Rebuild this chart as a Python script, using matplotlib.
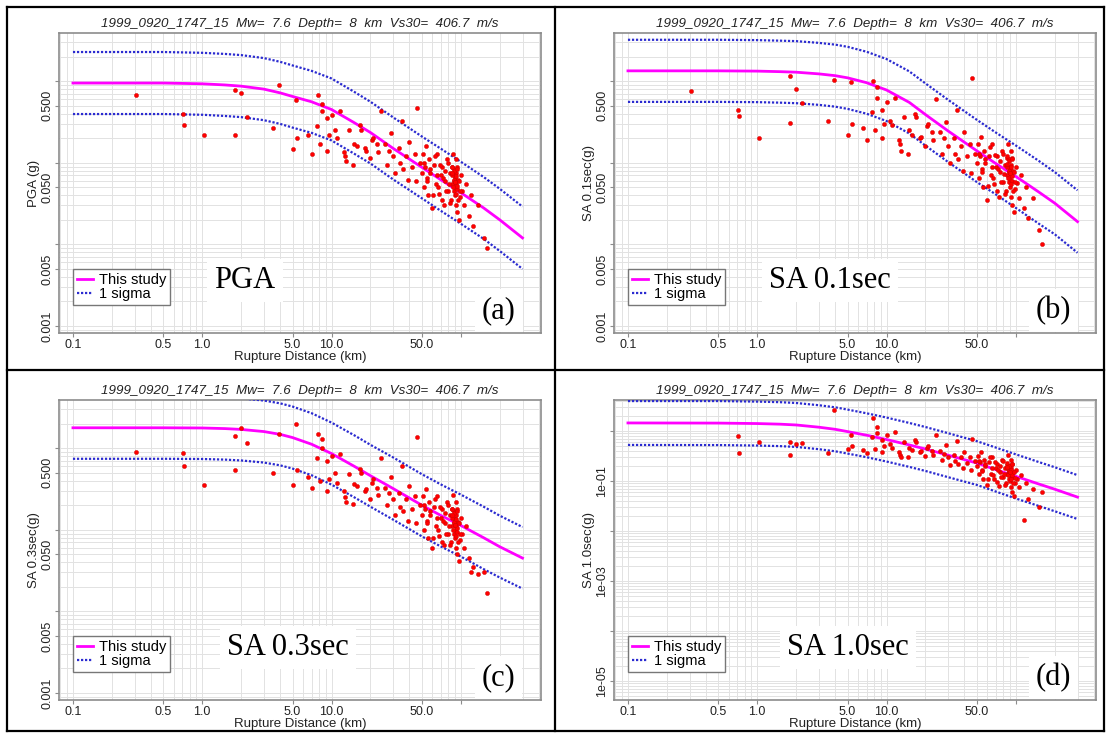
import numpy as np
import matplotlib
matplotlib.use("Agg")
import matplotlib.pyplot as plt
from matplotlib.lines import Line2D
from matplotlib.ticker import FixedLocator, FixedFormatter, LogLocator, NullFormatter

plt.rcParams['font.family'] = ['Liberation Sans', 'DejaVu Sans']

title_txt = "1999_0920_1747_15  Mw=  7.6  Depth=  8  km  Vs30=  406.7  m/s"

# station rupture distances (km), shared by all four periods
dist_km = [0.31, 0.71, 0.72, 1.03, 1.8, 1.8, 2.0, 2.2, 3.5, 3.9,
           5.0, 5.3, 5.4, 6.6, 7.0, 7.7, 7.8, 8.1, 8.4, 8.5,
           9.2, 9.3, 9.6, 10.1, 10.6, 11.0, 11.6, 12.5, 12.6, 13.0,
           13.6, 14.6, 15.0, 15.7, 16.6, 17.0, 18.1, 18.6, 19.8, 20.5,
           21.0, 22.4, 23.0, 24.0, 26, 27, 28, 29, 30, 31,
           33, 34, 35, 36, 38, 39, 40, 42, 44, 45,
           46, 48, 50, 51, 52, 53, 54, 55, 56, 57,
           58, 60, 62, 64, 66, 68, 70, 72, 74, 76,
           78, 80, 82, 84, 85, 86, 87, 88, 88, 89,
           89, 90, 90, 90, 91, 91, 92, 92, 93, 93,
           94, 95, 96, 98, 100, 102, 105, 110, 115, 120,
           125, 135, 150, 160,
           52, 55, 58, 61, 63, 65, 67, 69, 71, 73,
           75, 77, 79, 81, 83, 85, 86, 87, 88, 89,
           90, 91, 92, 93, 94, 95, 97, 99, 85, 90]

pga_obs = [0.68, 0.40, 0.29, 0.22, 0.22, 0.78, 0.72, 0.36, 0.27, 0.90,
           0.146, 0.59, 0.20, 0.22, 0.13, 0.285, 0.68, 0.17, 0.53, 0.43,
           0.35, 0.14, 0.22, 0.39, 0.25, 0.20, 0.43, 0.134, 0.12, 0.105,
           0.25, 0.095, 0.17, 0.16, 0.29, 0.25, 0.15, 0.14, 0.116, 0.19,
           0.20, 0.17, 0.135, 0.43, 0.17, 0.095, 0.14, 0.23, 0.12, 0.075,
           0.15, 0.10, 0.33, 0.085, 0.12, 0.062, 0.18, 0.09, 0.13, 0.06,
           0.47, 0.10, 0.075, 0.13, 0.05, 0.09, 0.16, 0.065, 0.04, 0.11,
           0.075, 0.028, 0.095, 0.055, 0.13, 0.042, 0.07, 0.09, 0.03, 0.06,
           0.11, 0.045, 0.075, 0.035, 0.09, 0.055, 0.13, 0.07, 0.045, 0.06,
           0.085, 0.05, 0.065, 0.04, 0.11, 0.03, 0.075, 0.055, 0.025, 0.09,
           0.048, 0.062, 0.02, 0.038, 0.07, 0.045, 0.03, 0.055, 0.022, 0.04,
           0.017, 0.03, 0.012, 0.009,
           0.10, 0.06, 0.085, 0.04, 0.12, 0.07, 0.05, 0.095, 0.035, 0.065,
           0.08, 0.045, 0.10, 0.055, 0.032, 0.07, 0.09, 0.05, 0.062, 0.08,
           0.058, 0.042, 0.068, 0.052, 0.085, 0.035, 0.06, 0.045, 0.075, 0.058]

sa01_obs = [0.76, 0.45, 0.38, 0.20, 0.31, 1.16, 0.80, 0.54, 0.33, 1.04,
            0.22, 0.98, 0.30, 0.27, 0.19, 0.42, 1.0, 0.25, 0.85, 0.62,
            0.45, 0.20, 0.30, 0.56, 0.33, 0.29, 0.62, 0.19, 0.17, 0.14,
            0.36, 0.13, 0.25, 0.22, 0.40, 0.36, 0.20, 0.21, 0.16, 0.28,
            0.30, 0.24, 0.19, 0.60, 0.24, 0.13, 0.20, 0.32, 0.16, 0.10,
            0.20, 0.13, 0.45, 0.11, 0.16, 0.08, 0.24, 0.12, 0.17, 0.075,
            1.1, 0.13, 0.10, 0.17, 0.065, 0.12, 0.21, 0.085, 0.05, 0.14,
            0.10, 0.035, 0.12, 0.07, 0.17, 0.055, 0.09, 0.12, 0.038, 0.078,
            0.14, 0.058, 0.095, 0.045, 0.115, 0.07, 0.17, 0.09, 0.058, 0.077,
            0.11, 0.064, 0.083, 0.05, 0.14, 0.038, 0.095, 0.07, 0.03, 0.115,
            0.06, 0.08, 0.025, 0.048, 0.09, 0.056, 0.037, 0.07, 0.028, 0.05,
            0.021, 0.037, 0.015, 0.010,
            0.13, 0.078, 0.11, 0.052, 0.155, 0.09, 0.065, 0.125, 0.045, 0.085,
            0.105, 0.058, 0.13, 0.072, 0.042, 0.09, 0.12, 0.065, 0.08, 0.105,
            0.075, 0.055, 0.088, 0.068, 0.11, 0.045, 0.078, 0.058, 0.098, 0.075]

sa03_obs = [0.90, 0.87, 0.60, 0.35, 0.54, 1.41, 1.77, 1.16, 0.50, 1.49,
            0.35, 1.98, 0.54, 0.44, 0.33, 0.75, 1.5, 0.40, 1.3, 1.0,
            0.70, 0.30, 0.42, 0.80, 0.50, 0.38, 0.85, 0.30, 0.25, 0.22,
            0.48, 0.21, 0.36, 0.34, 0.55, 0.50, 0.30, 0.32, 0.24, 0.38,
            0.42, 0.33, 0.27, 0.75, 0.33, 0.20, 0.28, 0.45, 0.24, 0.15,
            0.28, 0.19, 0.60, 0.17, 0.24, 0.13, 0.34, 0.18, 0.26, 0.12,
            1.37, 0.20, 0.15, 0.26, 0.10, 0.18, 0.32, 0.13, 0.08, 0.22,
            0.15, 0.06, 0.19, 0.11, 0.26, 0.085, 0.14, 0.18, 0.065, 0.12,
            0.22, 0.09, 0.15, 0.07, 0.18, 0.11, 0.27, 0.14, 0.09, 0.12,
            0.17, 0.10, 0.13, 0.08, 0.22, 0.06, 0.15, 0.11, 0.05, 0.18,
            0.095, 0.125, 0.042, 0.075, 0.14, 0.09, 0.06, 0.11, 0.045, 0.03,
            0.035, 0.029, 0.030, 0.017,
            0.20, 0.12, 0.17, 0.08, 0.24, 0.14, 0.10, 0.19, 0.07, 0.13,
            0.16, 0.09, 0.20, 0.11, 0.065, 0.14, 0.18, 0.10, 0.125, 0.16,
            0.115, 0.085, 0.135, 0.105, 0.17, 0.07, 0.12, 0.09, 0.15, 0.115]

sa10_obs = [np.nan, 0.81, 0.36, 0.62, 0.33, 0.62, 0.55, 0.59, 0.37, 2.67,
            0.45, 0.85, 0.50, 0.42, 0.36, 0.75, 1.86, 0.45, 1.2, 0.90,
            0.68, 0.38, 0.50, 0.82, 0.55, 0.46, 0.95, 0.38, 0.33, 0.30,
            0.60, 0.30, 0.46, 0.42, 0.66, 0.60, 0.38, 0.40, 0.32, 0.46,
            0.50, 0.41, 0.34, 0.85, 0.40, 0.26, 0.35, 0.52, 0.30, 0.21,
            0.34, 0.25, 0.65, 0.22, 0.30, 0.18, 0.38, 0.23, 0.30, 0.17,
            0.70, 0.25, 0.20, 0.32, 0.14, 0.24, 0.38, 0.17, 0.11, 0.27,
            0.20, 0.085, 0.24, 0.14, 0.30, 0.11, 0.18, 0.22, 0.08, 0.15,
            0.26, 0.12, 0.18, 0.09, 0.21, 0.14, 0.33, 0.17, 0.11, 0.15,
            0.20, 0.13, 0.16, 0.10, 0.27, 0.075, 0.18, 0.13, 0.06, 0.22,
            0.12, 0.15, 0.05, 0.09, 0.17, 0.11, 0.075, 0.13, 0.017, 0.09,
            0.045, 0.07, 0.03, 0.06,
            0.25, 0.16, 0.22, 0.11, 0.30, 0.18, 0.13, 0.24, 0.095, 0.17,
            0.20, 0.12, 0.25, 0.14, 0.085, 0.18, 0.23, 0.13, 0.16, 0.20,
            0.15, 0.11, 0.17, 0.135, 0.22, 0.09, 0.155, 0.115, 0.19, 0.15]

# model curves (median and +/- 1 sigma), g
curve_km = [0.1, 0.5, 1, 1.5, 2, 3, 4, 5, 7, 10, 15, 20, 30, 50, 70, 100, 150, 200, 300]

pga_med = [0.95, 0.95, 0.93, 0.90, 0.87, 0.80, 0.72, 0.65, 0.56, 0.45, 0.31, 0.235, 0.15, 0.088, 0.062, 0.043, 0.028, 0.020, 0.012]
pga_up = [2.28, 2.28, 2.23, 2.16, 2.09, 1.92, 1.73, 1.56, 1.34, 1.08, 0.74, 0.56, 0.36, 0.21, 0.149, 0.103, 0.067, 0.048, 0.029]
pga_lo = [0.396, 0.396, 0.388, 0.375, 0.363, 0.333, 0.30, 0.27, 0.233, 0.188, 0.129, 0.098, 0.0625, 0.0367, 0.0258, 0.0179, 0.0117, 0.0083, 0.005]

sa01_med = [1.34, 1.34, 1.33, 1.31, 1.29, 1.23, 1.17, 1.10, 0.96, 0.78, 0.55, 0.39, 0.245, 0.14, 0.098, 0.068, 0.044, 0.032, 0.019]
sa01_up = [3.22, 3.22, 3.19, 3.14, 3.10, 2.95, 2.81, 2.64, 2.30, 1.87, 1.32, 0.94, 0.59, 0.336, 0.235, 0.163, 0.106, 0.077, 0.046]
sa01_lo = [0.558, 0.558, 0.554, 0.546, 0.538, 0.513, 0.488, 0.458, 0.40, 0.325, 0.229, 0.1625, 0.102, 0.058, 0.041, 0.028, 0.018, 0.0133, 0.0079]

sa03_med = [1.78, 1.78, 1.77, 1.74, 1.70, 1.60, 1.48, 1.35, 1.12, 0.86, 0.60, 0.46, 0.32, 0.20, 0.15, 0.113, 0.08, 0.062, 0.045]
sa03_up = [4.27, 4.27, 4.25, 4.18, 4.08, 3.84, 3.55, 3.24, 2.69, 2.06, 1.44, 1.10, 0.77, 0.48, 0.36, 0.27, 0.192, 0.149, 0.108]
sa03_lo = [0.742, 0.742, 0.738, 0.725, 0.708, 0.667, 0.617, 0.5625, 0.467, 0.358, 0.25, 0.192, 0.133, 0.083, 0.0625, 0.047, 0.033, 0.026, 0.019]

sa10_med = [1.46, 1.45, 1.42, 1.38, 1.33, 1.20, 1.09, 0.98, 0.83, 0.68, 0.53, 0.44, 0.33, 0.23, 0.17, 0.125, 0.088, 0.069, 0.048]
sa10_up = [4.0, 4.0, 3.9, 3.8, 3.66, 3.3, 3.0, 2.7, 2.28, 1.87, 1.46, 1.21, 0.91, 0.63, 0.47, 0.344, 0.242, 0.19, 0.132]
sa10_lo = [0.53, 0.527, 0.516, 0.502, 0.484, 0.436, 0.396, 0.356, 0.302, 0.247, 0.193, 0.16, 0.12, 0.084, 0.062, 0.045, 0.032, 0.025, 0.0175]

xticks = [0.1, 0.5, 1, 5, 10, 50, 100]
xtick_labels = ["0.1", "0.5", "1.0", "5.0", "10.0", "50.0", ""]
yticks_g = [0.001, 0.005, 0.01, 0.05, 0.1, 0.5, 1]
ytick_labels_g = ["0.001", "0.005", "", "0.050", "", "0.500", ""]
yticks_e = [1e-5, 1e-4, 1e-3, 1e-2, 1e-1, 1]
ytick_labels_e = ["1e-05", "", "1e-03", "", "1e-01", ""]

panels = [
    dict(obs=pga_obs, med=pga_med, up=pga_up, lo=pga_lo, ylabel="PGA (g)", name="PGA", tag="(a)",
         yt=yticks_g, ytl=ytick_labels_g, ylim=(8.2e-4, 3.9), name_x=0.386),
    dict(obs=sa01_obs, med=sa01_med, up=sa01_up, lo=sa01_lo, ylabel="SA 0.1sec(g)", name="SA 0.1sec", tag="(b)",
         yt=yticks_g, ytl=ytick_labels_g, ylim=(8.2e-4, 3.9), name_x=0.448),
    dict(obs=sa03_obs, med=sa03_med, up=sa03_up, lo=sa03_lo, ylabel="SA 0.3sec(g)", name="SA 0.3sec", tag="(c)",
         yt=yticks_g, ytl=ytick_labels_g, ylim=(8.2e-4, 3.9), name_x=0.475),
    dict(obs=sa10_obs, med=sa10_med, up=sa10_up, lo=sa10_lo, ylabel="SA 1.0sec(g)", name="SA 1.0sec", tag="(d)",
         yt=yticks_e, ytl=ytick_labels_e, ylim=(4.2e-6, 4.2), name_x=0.485),
]

W, H = 1111, 733
fig = plt.figure(figsize=(W / 100, H / 100), dpi=100)

# axes boxes in pixels: left, top
boxes = [(59, 33), (614, 33), (59, 400), (614, 400)]
bw, bh = 482, 300

frame_col = "#8c8c8c"
for p, (bx, by) in zip(panels, boxes):
    ax = fig.add_axes([bx / W, 1 - (by + bh) / H, bw / W, bh / H])
    ax.set_xscale("log")
    ax.set_yscale("log")
    ax.set_xlim(0.078, 417)
    ax.set_ylim(*p["ylim"])

    ax.xaxis.set_minor_locator(LogLocator(base=10, subs=np.arange(1, 10), numticks=100))
    ax.yaxis.set_minor_locator(LogLocator(base=10, subs=np.arange(1, 10), numticks=100))
    ax.xaxis.set_minor_formatter(NullFormatter())
    ax.yaxis.set_minor_formatter(NullFormatter())
    ax.xaxis.set_major_locator(FixedLocator(xticks))
    ax.xaxis.set_major_formatter(FixedFormatter(xtick_labels))
    ax.yaxis.set_major_locator(FixedLocator(p["yt"]))
    ax.yaxis.set_major_formatter(FixedFormatter(p["ytl"]))
    ax.grid(which="both", color="#e2e2e2", linewidth=0.7)
    ax.set_axisbelow(True)
    ax.tick_params(which="minor", length=0)
    ax.tick_params(which="major", length=3, width=0.8, color=frame_col, labelsize=9,
                   labelcolor="#222222", pad=1)
    plt.setp(ax.get_yticklabels(), rotation=90, va="center", ha="right")
    for s in ax.spines.values():
        s.set_color(frame_col)
        s.set_linewidth(1.2)

    ax.plot(curve_km, p["up"], color="#2b2bd0", lw=1.6, ls=(0, (1, 0.8)), zorder=3)
    ax.plot(curve_km, p["lo"], color="#2b2bd0", lw=1.6, ls=(0, (1, 0.8)), zorder=3)
    ax.plot(curve_km, p["med"], color="#ff00ff", lw=2.0, zorder=3)
    ax.scatter(dist_km, p["obs"], s=9, color="#ff0000", edgecolors="#c80000", linewidths=0.3, zorder=4)

    ax.set_title(title_txt, fontsize=9.6, style="italic", color="#222222", pad=4)
    ax.set_xlabel("Rupture Distance (km)", fontsize=9.5, color="#222222", labelpad=0.5)
    ax.set_ylabel(p["ylabel"], fontsize=9.5, color="#222222", labelpad=1)

    handles = [Line2D([], [], color="#ff00ff", lw=2),
               Line2D([], [], color="#2b2bd0", lw=1.6, ls=(0, (1, 0.8)))]
    leg = ax.legend(handles, ["This study", "1 sigma"], loc="lower left", bbox_to_anchor=(0.03, 0.095),
                    borderaxespad=0, fontsize=10.5, handlelength=1.1, handletextpad=0.4,
                    labelspacing=0.0, borderpad=0.25, fancybox=False, framealpha=1,
                    edgecolor="#777777")
    leg.get_frame().set_linewidth(1.0)
    leg.set_zorder(6)

    box = dict(facecolor="white", edgecolor="none", pad=5)
    ax.text(p["name_x"], 0.175, p["name"], transform=ax.transAxes, ha="center", va="center",
            fontsize=22, family="Liberation Serif", bbox=box, zorder=7)
    ax.text(0.912, 0.075, p["tag"], transform=ax.transAxes, ha="center", va="center",
            fontsize=22, family="Liberation Serif", bbox=box, zorder=7)

# black cell borders
lw_b = 1.6
x0, x1, xm = 7 / W, 1104 / W, 555 / W
y0, y1, ym = 1 - 731 / H, 1 - 7 / H, 1 - 370 / H
for xs, ys in [([x0, x1], [y1, y1]), ([x0, x1], [y0, y0]), ([x0, x0], [y0, y1]),
               ([x1, x1], [y0, y1]), ([xm, xm], [y0, y1]), ([x0, x1], [ym, ym])]:
    fig.add_artist(Line2D(xs, ys, color="black", lw=lw_b, transform=fig.transFigure))

fig.savefig("out.png", dpi=100)
